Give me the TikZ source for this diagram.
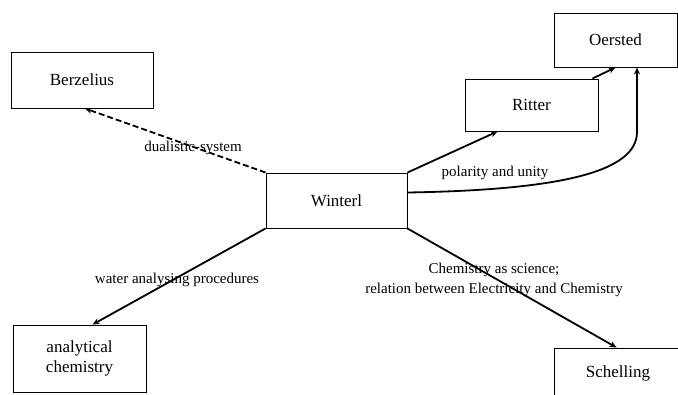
\documentclass[tikz,border=0pt]{standalone}
\usepackage{fontspec}
\setmainfont{Liberation Serif}
\usetikzlibrary{arrows.meta,calc}
\begin{document}
\begin{tikzpicture}[x=1pt,y=-1pt,
  box/.style={draw,line width=0.9pt,inner sep=0pt,align=center,font=\fontsize{17}{20}\selectfont},
  lbl/.style={inner sep=0pt,align=center,font=\fontsize{15}{20}\selectfont},
  conn/.style={line width=1.8pt,-{Stealth[length=7pt,width=6pt]}},
  dconn/.style={line width=1.8pt,dash pattern=on 6pt off 3pt,-{Stealth[length=7pt,width=6pt]}}]
\clip (0,0) rectangle (678,394);
\fill[white] (0,0) rectangle (678,394);
\node[box,minimum width=142pt,minimum height=56pt] (B) at (82,80) {Berzelius};
\node[box,minimum width=141pt,minimum height=55pt] (W) at (336.5,200.5) {Winterl};
\node[box,minimum width=133pt,minimum height=52pt] (R) at (531.5,105) {Ritter};
\node[box,minimum width=123pt,minimum height=54pt] (O) at (615.5,40) {Oersted};
\node[box,minimum width=133pt,minimum height=67pt] (A) at (79.5,358.5) {analytical\\chemistry};
\node[box,minimum width=128pt,minimum height=50pt] (S) at (618,373) {Schelling};
\draw[dconn] (W.north west) -- ($(B.south)+(3,0)$);
\draw[conn] (W.north east) -- ($(R.south west)+(33,0)$);
\draw[conn] ($(R.north east)+(-6,0)$) -- (O.south);
\draw[conn] ($(W.east)+(0,-8)$) .. controls (560,190) and (637,172) .. (637,132) -- ($(O.south)+(21.5,0)$);
\draw[conn] (W.south west) -- ($(A.north west)+(80,0)$);
\draw[conn] (W.south east) -- ($(S.north west)+(63,0)$);
\node[lbl] (l1) at (193,148) {dualistic-system};
\node[lbl] (l2) at (495,173) {polarity and unity};
\node[lbl] (l3) at (177,280) {water analysing procedures};
\node[lbl] (l4) at (494,280) {Chemistry as science;\\relation between Electricity and Chemistry};
\end{tikzpicture}
\end{document}
